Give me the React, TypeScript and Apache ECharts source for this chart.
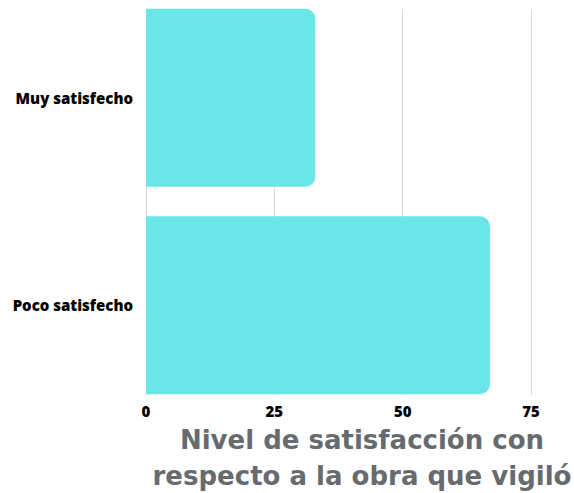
import React, { useEffect, useRef } from "react";
import * as echarts from "echarts";

const categories = ["Poco satisfecho", "Muy satisfecho"];
const values = [67, 33];
const xTicks = [0, 25, 50, 75];
const titleLines = ["Nivel de satisfacción con", "respecto a la obra que vigiló"];

const SHIFT = 6;

export default function App() {
  const ref = useRef<HTMLDivElement>(null);
  useEffect(() => {
    if (!ref.current) return;
    document.body.style.margin = "0";
    const chart = echarts.init(ref.current, null, { renderer: "svg" });
    chart.setOption({
      animation: false,
      grid: [
        { left: 146, right: 43, top: 9 + SHIFT, bottom: 98 },
        { left: 146, right: 43, top: 0, bottom: 84 },
      ],
      xAxis: [
        {
          gridIndex: 0,
          type: "value",
          min: xTicks[0],
          max: xTicks[xTicks.length - 1],
          interval: 25,
          axisLine: { show: false },
          axisTick: { show: false },
          splitLine: { show: true, lineStyle: { color: "#d9d9d9", width: 1 } },
          axisLabel: {
            color: "#000",
            fontFamily: "Open Sans",
            fontWeight: 800,
            fontSize: 15,
            margin: 8,
          },
        },
        {
          gridIndex: 1,
          type: "value",
          min: xTicks[0],
          max: xTicks[xTicks.length - 1],
          show: false,
        },
      ],
      yAxis: [
        {
          gridIndex: 0,
          type: "category",
          data: categories,
          show: false,
        },
        {
          gridIndex: 1,
          type: "category",
          data: categories,
          axisLine: { show: false },
          axisTick: { show: false },
          splitLine: { show: false },
          axisLabel: {
            color: "#000",
            fontFamily: "Open Sans",
            fontWeight: 800,
            fontSize: 15,
            margin: 13,
          },
        },
      ],
      series: [
        {
          type: "bar",
          xAxisIndex: 1,
          yAxisIndex: 1,
          data: values,
          barWidth: 178,
          itemStyle: { color: "#6ae5e8", borderRadius: [0, 10, 10, 0] },
        },
      ],
      graphic: [
        {
          type: "text",
          x: 362,
          y: 458 + SHIFT,
          style: {
            text: titleLines.join("\n"),
            fill: "#676b6e",
            font: "bold 26px 'DejaVu Sans'",
            align: "center",
            verticalAlign: "middle",
            lineHeight: 36,
          },
        },
      ],
    });
    return () => chart.dispose();
  }, []);
  return (
    <div
      ref={ref}
      style={{ width: 574, height: 493 + SHIFT, position: "relative", top: -SHIFT }}
    />
  );
}
